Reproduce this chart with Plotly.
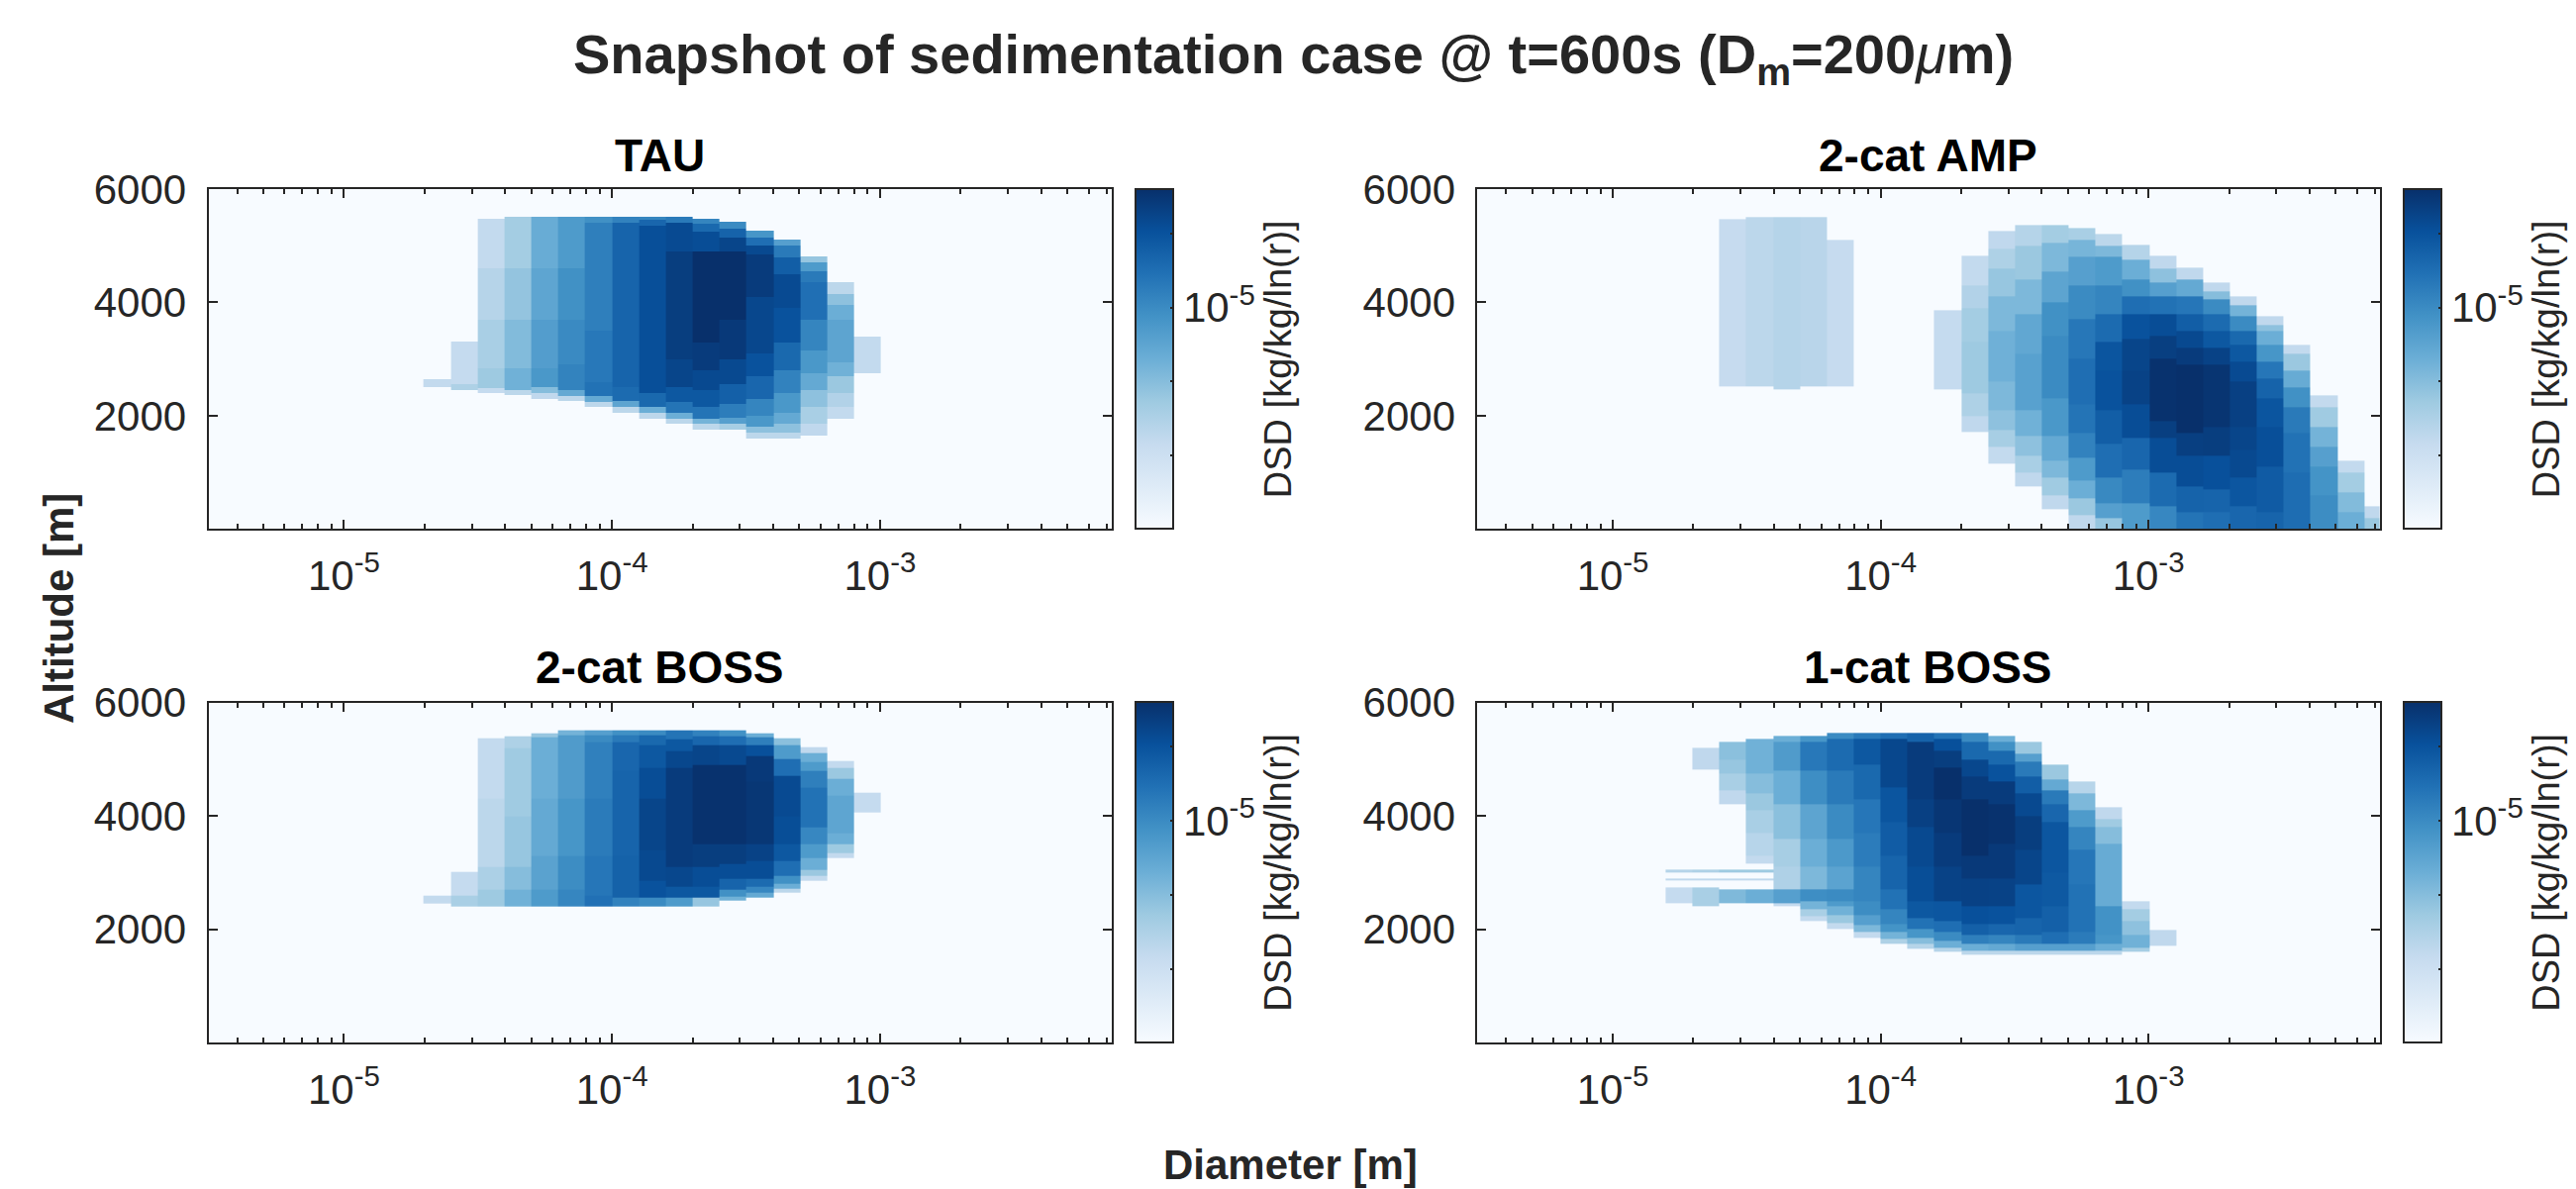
import math
import plotly.graph_objects as go

# ---------------- data ----------------
# diameter bin edges [m] (34 mass-doubling bins)
bin_edges_d = [3.125e-6, 3.937e-6, 4.961e-6, 6.25e-6, 7.874e-6, 9.921e-6, 1.25e-5, 1.575e-5,
               1.984e-5, 2.5e-5, 3.150e-5, 3.969e-5, 5.0e-5, 6.300e-5, 7.937e-5, 1.0e-4,
               1.260e-4, 1.587e-4, 2.0e-4, 2.520e-4, 3.175e-4, 4.0e-4, 5.040e-4, 6.350e-4,
               8.0e-4, 1.008e-3, 1.270e-3, 1.6e-3, 2.016e-3, 2.540e-3, 3.2e-3, 4.032e-3,
               5.080e-3, 6.4e-3, 8.063e-3]

panel_titles = ["TAU", "2-cat AMP", "2-cat BOSS", "1-cat BOSS"]

# each column: bin index, altitude breaks [m], log10(DSD) per segment
tau_k = [8, 9, 10, 11, 12, 13, 14, 15, 16, 17, 18, 19, 20, 21, 22, 23, 24]
tau_breaks = [
    [2500, 2650],
    [2450, 2560, 3310],
    [2405, 2490, 2840, 3700, 4600, 5476],
    [2359, 2460, 2840, 3700, 4600, 5511],
    [2300, 2400, 2500, 2840, 3700, 4600, 5511],
    [2254, 2350, 2450, 2900, 3700, 4600, 5511],
    [2161, 2250, 2350, 2600, 3500, 5400, 5511],
    [2056, 2150, 2260, 2500, 5400, 5511],
    [1951, 2050, 2150, 2400, 5350, 5450, 5511],
    [1852, 1950, 2050, 2250, 2500, 3000, 4900, 5400, 5511],
    [1753, 1850, 1950, 2150, 2450, 2800, 3300, 4900, 5250, 5380, 5476],
    [1753, 1850, 1960, 2200, 2550, 3000, 3700, 4900, 5150, 5300, 5418],
    [1601, 1700, 1800, 2000, 2300, 2700, 3100, 4100, 4850, 5000, 5150, 5266],
    [1601, 1700, 1850, 2050, 2400, 2800, 3300, 3900, 4500, 4800, 5000, 5109],
    [1654, 1850, 2150, 2450, 2750, 3150, 3700, 4350, 4550, 4700, 4812],
    [1951, 2150, 2400, 2700, 2950, 3700, 3950, 4150, 4357],
    [2755, 3402],
]
tau_vals = [
    [-5.9],
    [-5.75, -5.92],
    [-5.92, -5.64, -5.72, -5.81, -5.9],
    [-5.85, -5.38, -5.48, -5.58, -5.68],
    [-5.88, -5.5, -5.12, -5.18, -5.26, -5.33],
    [-5.85, -5.3, -4.93, -4.99, -5.05, -5.15],
    [-5.85, -5.3, -4.78, -4.84, -4.9, -5.05],
    [-5.85, -5.25, -4.72, -4.66, -4.92],
    [-5.85, -5.35, -4.7, -4.47, -4.68, -4.95],
    [-5.85, -5.35, -4.8, -4.55, -4.38, -4.32, -4.43, -4.85],
    [-5.85, -5.4, -4.8, -4.55, -4.42, -4.3, -4.2, -4.45, -4.7, -4.95],
    [-5.7, -5.2, -4.88, -4.62, -4.42, -4.28, -4.2, -4.38, -4.65, -5.0],
    [-5.85, -5.55, -5.12, -4.95, -4.68, -4.5, -4.4, -4.3, -4.42, -4.75, -5.1],
    [-5.85, -5.55, -5.3, -5.12, -4.92, -4.7, -4.5, -4.43, -4.6, -4.85, -5.2],
    [-5.88, -5.72, -5.55, -5.3, -5.12, -4.95, -4.76, -4.85, -5.15, -5.6],
    [-5.9, -5.78, -5.62, -5.38, -5.25, -5.35, -5.55, -5.85],
    [-5.9],
]

amp_k = [9, 10, 11, 12, 13, 17, 18, 19, 20, 21, 22, 23, 24, 25, 26, 27, 28, 29, 30, 31, 32, 33]
amp_breaks = [
    [2510, 5463],
    [2510, 5505],
    [2458, 5505],
    [2510, 5505],
    [2510, 5109],
    [2458, 3862],
    [1706, 2000, 2400, 3300, 3900, 4300, 4817],
    [1147, 1450, 1750, 2100, 2600, 3500, 4100, 4600, 4950, 5266],
    [751, 1000, 1300, 1650, 2100, 3100, 3800, 4400, 5000, 5371],
    [349, 600, 900, 1200, 1650, 2300, 3400, 4000, 4550, 5050, 5371],
    [0, 250, 550, 850, 1250, 1700, 2200, 3000, 3700, 4300, 4800, 5100, 5313],
    [0, 200, 450, 900, 1500, 2100, 2800, 3300, 3800, 4300, 4800, 5000, 5213],
    [0, 450, 1050, 1600, 2200, 2800, 3350, 3800, 4100, 4400, 4750, 5010],
    [0, 400, 1000, 1600, 1900, 3000, 3400, 3800, 4100, 4350, 4600, 4817],
    [0, 300, 750, 1300, 1700, 2900, 3200, 3500, 3800, 4100, 4400, 4619],
    [0, 300, 700, 1300, 1800, 2900, 3200, 3500, 3800, 4050, 4200, 4357],
    [0, 400, 900, 1400, 1800, 2600, 2950, 3250, 3500, 3750, 3950, 4112],
    [0, 300, 1100, 1800, 2300, 2650, 2950, 3250, 3500, 3600, 3763],
    [0, 1000, 1700, 2150, 2500, 2800, 3100, 3256],
    [0, 600, 1100, 1450, 1800, 2150, 2359],
    [0, 300, 650, 1000, 1200],
    [0, 200, 395],
]
amp_vals = [
    [-5.93],
    [-5.85],
    [-5.8],
    [-5.83],
    [-5.93],
    [-5.92],
    [-5.88, -5.75, -5.64, -5.68, -5.78, -5.9],
    [-5.9, -5.7, -5.55, -5.45, -5.37, -5.45, -5.6, -5.75, -5.88],
    [-5.88, -5.72, -5.55, -5.38, -5.22, -5.28, -5.45, -5.62, -5.8],
    [-5.88, -5.65, -5.45, -5.3, -5.12, -5.0, -5.05, -5.25, -5.45, -5.68],
    [-5.88, -5.62, -5.35, -5.15, -4.92, -4.8, -4.75, -4.83, -5.0, -5.2, -5.42, -5.72],
    [-5.6, -5.2, -4.98, -4.75, -4.6, -4.5, -4.52, -4.72, -4.95, -5.15, -5.45, -5.85],
    [-5.15, -4.88, -4.68, -4.45, -4.36, -4.38, -4.5, -4.75, -5.05, -5.35, -5.8],
    [-4.97, -4.72, -4.45, -4.33, -4.22, -4.33, -4.45, -4.78, -5.2, -5.55, -5.88],
    [-4.8, -4.65, -4.45, -4.33, -4.2, -4.3, -4.42, -4.6, -4.82, -5.3, -5.88],
    [-4.75, -4.66, -4.48, -4.32, -4.24, -4.36, -4.55, -4.72, -5.0, -5.5, -5.88],
    [-4.68, -4.53, -4.42, -4.38, -4.34, -4.43, -4.55, -4.7, -5.0, -5.4, -5.88],
    [-4.66, -4.58, -4.47, -4.52, -4.65, -4.82, -5.1, -5.35, -5.55, -5.88],
    [-4.74, -4.78, -4.85, -5.05, -5.32, -5.62, -5.9],
    [-5.02, -5.08, -5.2, -5.4, -5.65, -5.9],
    [-5.35, -5.48, -5.68, -5.9],
    [-5.62, -5.88],
]

boss2_k = [8, 9, 10, 11, 12, 13, 14, 15, 16, 17, 18, 19, 20, 21, 22, 23, 24]
boss2_breaks = [
    [2455, 2601],
    [2403, 2590, 3008],
    [2403, 2700, 3100, 4300, 5365],
    [2403, 2705, 3100, 4000, 5200, 5411],
    [2403, 2705, 3300, 4300, 5380, 5463],
    [2403, 2705, 3300, 4300, 5420, 5510],
    [2403, 2600, 3300, 4300, 5300, 5420, 5510],
    [2403, 2560, 3300, 4800, 5300, 5420, 5510],
    [2403, 2560, 2850, 3400, 4300, 4850, 5250, 5420, 5510],
    [2403, 2560, 2750, 3100, 4300, 4850, 5150, 5350, 5510],
    [2403, 2560, 2750, 3100, 3500, 4400, 4900, 5250, 5400, 5510],
    [2502, 2580, 2700, 2900, 3150, 3500, 4400, 4900, 5250, 5400, 5510],
    [2560, 2650, 2750, 2900, 3200, 3500, 4600, 5050, 5250, 5380, 5463],
    [2647, 2720, 2800, 2950, 3200, 3500, 4000, 4700, 5000, 5250, 5365],
    [2851, 2950, 3050, 3250, 3500, 3800, 4500, 4800, 4950, 5100, 5208],
    [3258, 3350, 3500, 3700, 4350, 4650, 4850, 4963],
    [4055, 4404],
]
boss2_vals = [
    [-5.9],
    [-5.72, -5.92],
    [-5.64, -5.74, -5.85, -5.9],
    [-5.38, -5.5, -5.6, -5.65, -5.75],
    [-5.15, -5.23, -5.3, -5.35, -5.6],
    [-4.96, -5.02, -5.1, -5.16, -5.4],
    [-4.77, -4.82, -4.86, -4.91, -5.0, -5.2],
    [-4.92, -4.64, -4.66, -4.68, -4.85, -5.05],
    [-5.0, -4.5, -4.42, -4.38, -4.45, -4.55, -4.7, -5.0],
    [-5.15, -4.55, -4.4, -4.3, -4.3, -4.4, -4.55, -4.8],
    [-5.6, -4.55, -4.45, -4.32, -4.22, -4.22, -4.38, -4.68, -4.92],
    [-5.38, -5.05, -4.66, -4.45, -4.32, -4.22, -4.22, -4.42, -4.75, -5.06],
    [-5.3, -4.97, -4.72, -4.45, -4.36, -4.26, -4.28, -4.48, -4.9, -5.35],
    [-5.85, -5.35, -5.05, -4.75, -4.55, -4.46, -4.43, -4.75, -5.15, -5.53],
    [-5.9, -5.62, -5.35, -5.15, -4.97, -4.78, -4.9, -5.15, -5.35, -5.88],
    [-5.9, -5.64, -5.35, -5.26, -5.35, -5.62, -5.9],
    [-5.92],
]

boss1_k = [7, 8, 9, 10, 11, 12, 13, 14, 15, 16, 17, 18, 19, 20, 21, 22, 23, 24, 25]
boss1_breaks = [
    [2455, 2746, 2857, 2897, 3008, 3049],
    [2403, 2746, 2857, 2897, 3008, 3049, 4812, 5208],
    [2455, 2705, 2857, 2897, 3008, 3049, 4207, 4450, 4750, 5000, 5312],
    [2455, 2705, 2857, 2897, 3008, 3049, 3153, 3300, 3700, 4100, 4400, 4750, 5365],
    [2403, 2455, 2705, 3100, 3600, 4200, 4800, 5300, 5411],
    [2152, 2240, 2360, 2502, 2705, 3100, 3600, 4200, 4800, 5300, 5411],
    [2001, 2120, 2250, 2400, 2502, 2705, 3100, 3600, 4200, 4800, 5350, 5463],
    [1856, 1950, 2080, 2250, 2500, 3100, 3700, 4300, 4900, 5350, 5463],
    [1751, 1830, 1950, 2100, 2350, 2700, 3300, 3900, 4500, 5350, 5463],
    [1652, 1740, 1850, 2000, 2200, 2500, 3100, 3800, 4300, 5300, 5463],
    [1600, 1680, 1800, 1950, 2150, 2500, 3100, 3700, 4300, 4850, 5150, 5350, 5463],
    [1553, 1630, 1750, 1900, 2100, 2400, 2900, 3300, 4300, 4700, 5000, 5300, 5463],
    [1553, 1630, 1750, 1900, 2100, 2400, 2900, 3500, 4200, 4600, 4900, 5150, 5300, 5411],
    [1553, 1630, 1750, 1900, 2200, 2800, 3400, 4000, 4400, 4700, 4950, 5100, 5312],
    [1553, 1630, 1750, 1950, 2400, 3000, 3900, 4200, 4450, 4650, 4905],
    [1553, 1630, 1750, 1950, 2800, 3400, 3800, 4100, 4400, 4608],
    [1553, 1630, 1750, 1900, 2400, 3500, 3800, 3950, 4154],
    [1600, 1680, 1900, 2150, 2350, 2502],
    [1704, 1995],
]
boss1_vals = [
    [-5.92, None, -5.88, None, -5.8],
    [-5.72, None, -5.88, None, -5.75, None, -5.88],
    [-5.46, None, -5.88, None, -5.64, None, -5.88, -5.72, -5.6, -5.53],
    [-5.35, None, -5.88, None, -5.64, None, -5.9, -5.82, -5.72, -5.62, -5.5, -5.38],
    [-5.9, -5.2, -5.76, -5.7, -5.53, -5.35, -5.16, -5.35],
    [-5.9, -5.72, -5.4, -5.03, -5.45, -5.35, -5.25, -5.03, -4.84, -5.1],
    [-5.9, -5.62, -5.38, -5.15, -5.0, -5.24, -5.13, -5.0, -4.85, -4.72, -5.0],
    [-5.9, -5.45, -5.2, -5.02, -4.95, -4.87, -4.82, -4.7, -4.55, -4.85],
    [-5.75, -5.4, -5.08, -4.95, -4.78, -4.66, -4.59, -4.52, -4.4, -4.75],
    [-5.8, -5.5, -5.1, -4.78, -4.55, -4.46, -4.42, -4.34, -4.3, -4.65],
    [-5.8, -5.35, -5.0, -4.75, -4.53, -4.36, -4.3, -4.25, -4.2, -4.32, -4.48, -4.8],
    [-5.85, -5.35, -4.9, -4.62, -4.48, -4.35, -4.28, -4.2, -4.3, -4.4, -4.7, -5.0],
    [-5.85, -5.3, -4.95, -4.68, -4.5, -4.36, -4.28, -4.22, -4.3, -4.5, -4.7, -5.05, -5.35],
    [-5.85, -5.2, -4.85, -4.66, -4.53, -4.38, -4.32, -4.42, -4.6, -4.85, -5.2, -5.62],
    [-5.85, -5.2, -4.75, -4.62, -4.56, -4.53, -4.68, -4.85, -5.3, -5.62],
    [-5.85, -5.2, -4.86, -4.78, -4.82, -4.95, -5.15, -5.45, -5.82],
    [-5.85, -5.35, -5.1, -5.06, -5.32, -5.5, -5.65, -5.88],
    [-5.7, -5.38, -5.55, -5.68, -5.9],
    [-5.88],
]

x_tick_vals = [-5, -4, -3]
x_tick_text = ["10<sup>-5</sup>", "10<sup>-4</sup>", "10<sup>-3</sup>"]
y_tick_vals = [2000, 4000, 6000]
cbar_tick_vals = [-6.0, -5.5, -5.0, -4.5]
cbar_tick_text = ["", "", "10<sup>-5</sup>", ""]
c_min, c_max = -6.5, -4.2

# ---------------- helpers ----------------
blues = [[0.0, "#f7fbff"], [0.125, "#deebf7"], [0.25, "#c6dbef"], [0.375, "#9ecae1"],
         [0.5, "#6baed6"], [0.625, "#4292c6"], [0.75, "#2171b5"], [0.875, "#08519c"],
         [1.0, "#08306b"]]

x_edges = [math.log10(d) for d in bin_edges_d]
ncol = len(bin_edges_d) - 1


def build(ks, breaks, vals):
    ys = sorted({b for br in breaks for b in br})
    nrow = len(ys) - 1
    z = [[None] * ncol for _ in range(nrow)]
    for k, br, vs in zip(ks, breaks, vals):
        for j, v in enumerate(vs):
            if v is None:
                continue
            lo, hi = br[j], br[j + 1]
            for i in range(nrow):
                if ys[i] >= lo and ys[i + 1] <= hi:
                    z[i][k] = v
    return ys, z


panels = [(tau_k, tau_breaks, tau_vals), (amp_k, amp_breaks, amp_vals),
          (boss2_k, boss2_breaks, boss2_vals), (boss1_k, boss1_breaks, boss1_vals)]

W, H = 2602, 1201
xdom = [[210.6 / W, 1122.6 / W], [1492.4 / W, 2403.6 / W]]
ydom = [[1 - 534.3 / H, 1 - 191.0 / H], [1 - 1053.3 / H, 1 - 709.6 / H]]
cbx = [1146.7 / W, 2427.7 / W]

minor_vals = []
for e in (-6, -5, -4, -3):
    for m in range(2, 10):
        v = math.log10(m * 10 ** e)
        if x_edges[0] < v < math.log10(7.3e-3):
            minor_vals.append(v)

axcol = "#262626"
font_fam = "Liberation Sans, Arial, Helvetica, sans-serif"

fig = go.Figure()
layout = dict(width=W, height=H, margin=dict(l=0, r=0, t=0, b=0, autoexpand=False),
              autosize=False, paper_bgcolor="white", plot_bgcolor="#f7fbff",
              font=dict(family=font_fam, size=42, color=axcol), showlegend=False)
annotations = []

for p, (ks, brs, vs) in enumerate(panels):
    row, col = divmod(p, 2)
    sfx = "" if p == 0 else str(p + 1)
    ys, z = build(ks, brs, vs)
    fig.add_trace(go.Heatmap(x=x_edges, y=ys, z=z, coloraxis="coloraxis" + sfx,
                             xaxis="x" + sfx, yaxis="y" + sfx, hoverongaps=False))
    layout["xaxis" + sfx] = dict(
        domain=xdom[col], anchor="y" + sfx, range=[x_edges[0], math.log10(7.3e-3)],
        tickmode="array", tickvals=x_tick_vals, ticktext=x_tick_text,
        ticks="inside", ticklen=9, tickwidth=2, tickcolor=axcol,
        showline=True, linecolor=axcol, linewidth=2, mirror="allticks",
        showgrid=False, zeroline=False, ticklabelstandoff=9,
        tickfont=dict(size=42, color=axcol, family=font_fam),
        minor=dict(tickmode="array", tickvals=minor_vals, ticks="inside", ticklen=5,
                   tickwidth=2, tickcolor=axcol, showgrid=False))
    layout["yaxis" + sfx] = dict(
        domain=ydom[row], anchor="x" + sfx, range=[0, 6000],
        tickmode="array", tickvals=y_tick_vals,
        ticks="inside", ticklen=9, tickwidth=2, tickcolor=axcol,
        showline=True, linecolor=axcol, linewidth=2, mirror="allticks",
        showgrid=False, zeroline=False, ticklabelstandoff=12,
        tickfont=dict(size=42, color=axcol, family=font_fam))
    layout["coloraxis" + sfx] = dict(
        colorscale=blues, cmin=c_min, cmax=c_max,
        colorbar=dict(x=cbx[col], xanchor="left", xpad=0, ypad=0,
                      y=ydom[row][0], yanchor="bottom",
                      len=ydom[row][1] - ydom[row][0], lenmode="fraction",
                      thickness=38, thicknessmode="pixels",
                      outlinewidth=2, outlinecolor=axcol,
                      tickmode="array", tickvals=cbar_tick_vals, ticktext=cbar_tick_text,
                      ticks="inside", ticklen=4, tickwidth=2, tickcolor=axcol,
                      tickfont=dict(size=42, color=axcol, family=font_fam),
                      title=dict(text="DSD [kg/kg/ln(r)]", side="right",
                                 font=dict(size=38, color=axcol, family=font_fam))))
    annotations.append(dict(text="<b>" + panel_titles[p] + "</b>", xref="paper", yref="paper",
                            x=(xdom[col][0] + xdom[col][1]) / 2,
                            y=[1 - 157 / H, 1 - 673.5 / H][row],
                            xanchor="center", yanchor="middle", showarrow=False,
                            font=dict(size=46, color="black", family=font_fam)))

annotations.append(dict(text="<b>Snapshot of sedimentation case @ t=600s (D<sub>m</sub>=200</b><i>μ</i><b>m)</b>",
                        xref="paper", yref="paper", x=1306 / W, y=1 - 58 / H,
                        xanchor="center", yanchor="middle", showarrow=False,
                        font=dict(size=56, color=axcol, family=font_fam)))
annotations.append(dict(text="<b>Altitude [m]</b>", xref="paper", yref="paper",
                        x=59 / W, y=1 - 615 / H, textangle=-90,
                        xanchor="center", yanchor="middle", showarrow=False,
                        font=dict(size=42, color=axcol, family=font_fam)))
annotations.append(dict(text="<b>Diameter [m]</b>", xref="paper", yref="paper",
                        x=1303 / W, y=1 - 1176 / H,
                        xanchor="center", yanchor="middle", showarrow=False,
                        font=dict(size=42, color=axcol, family=font_fam)))
layout["annotations"] = annotations
fig.update_layout(**layout)
fig.write_html("out.html", config={"displayModeBar": False},
               post_script="document.body.style.margin='0px';document.body.style.overflow='hidden';")
